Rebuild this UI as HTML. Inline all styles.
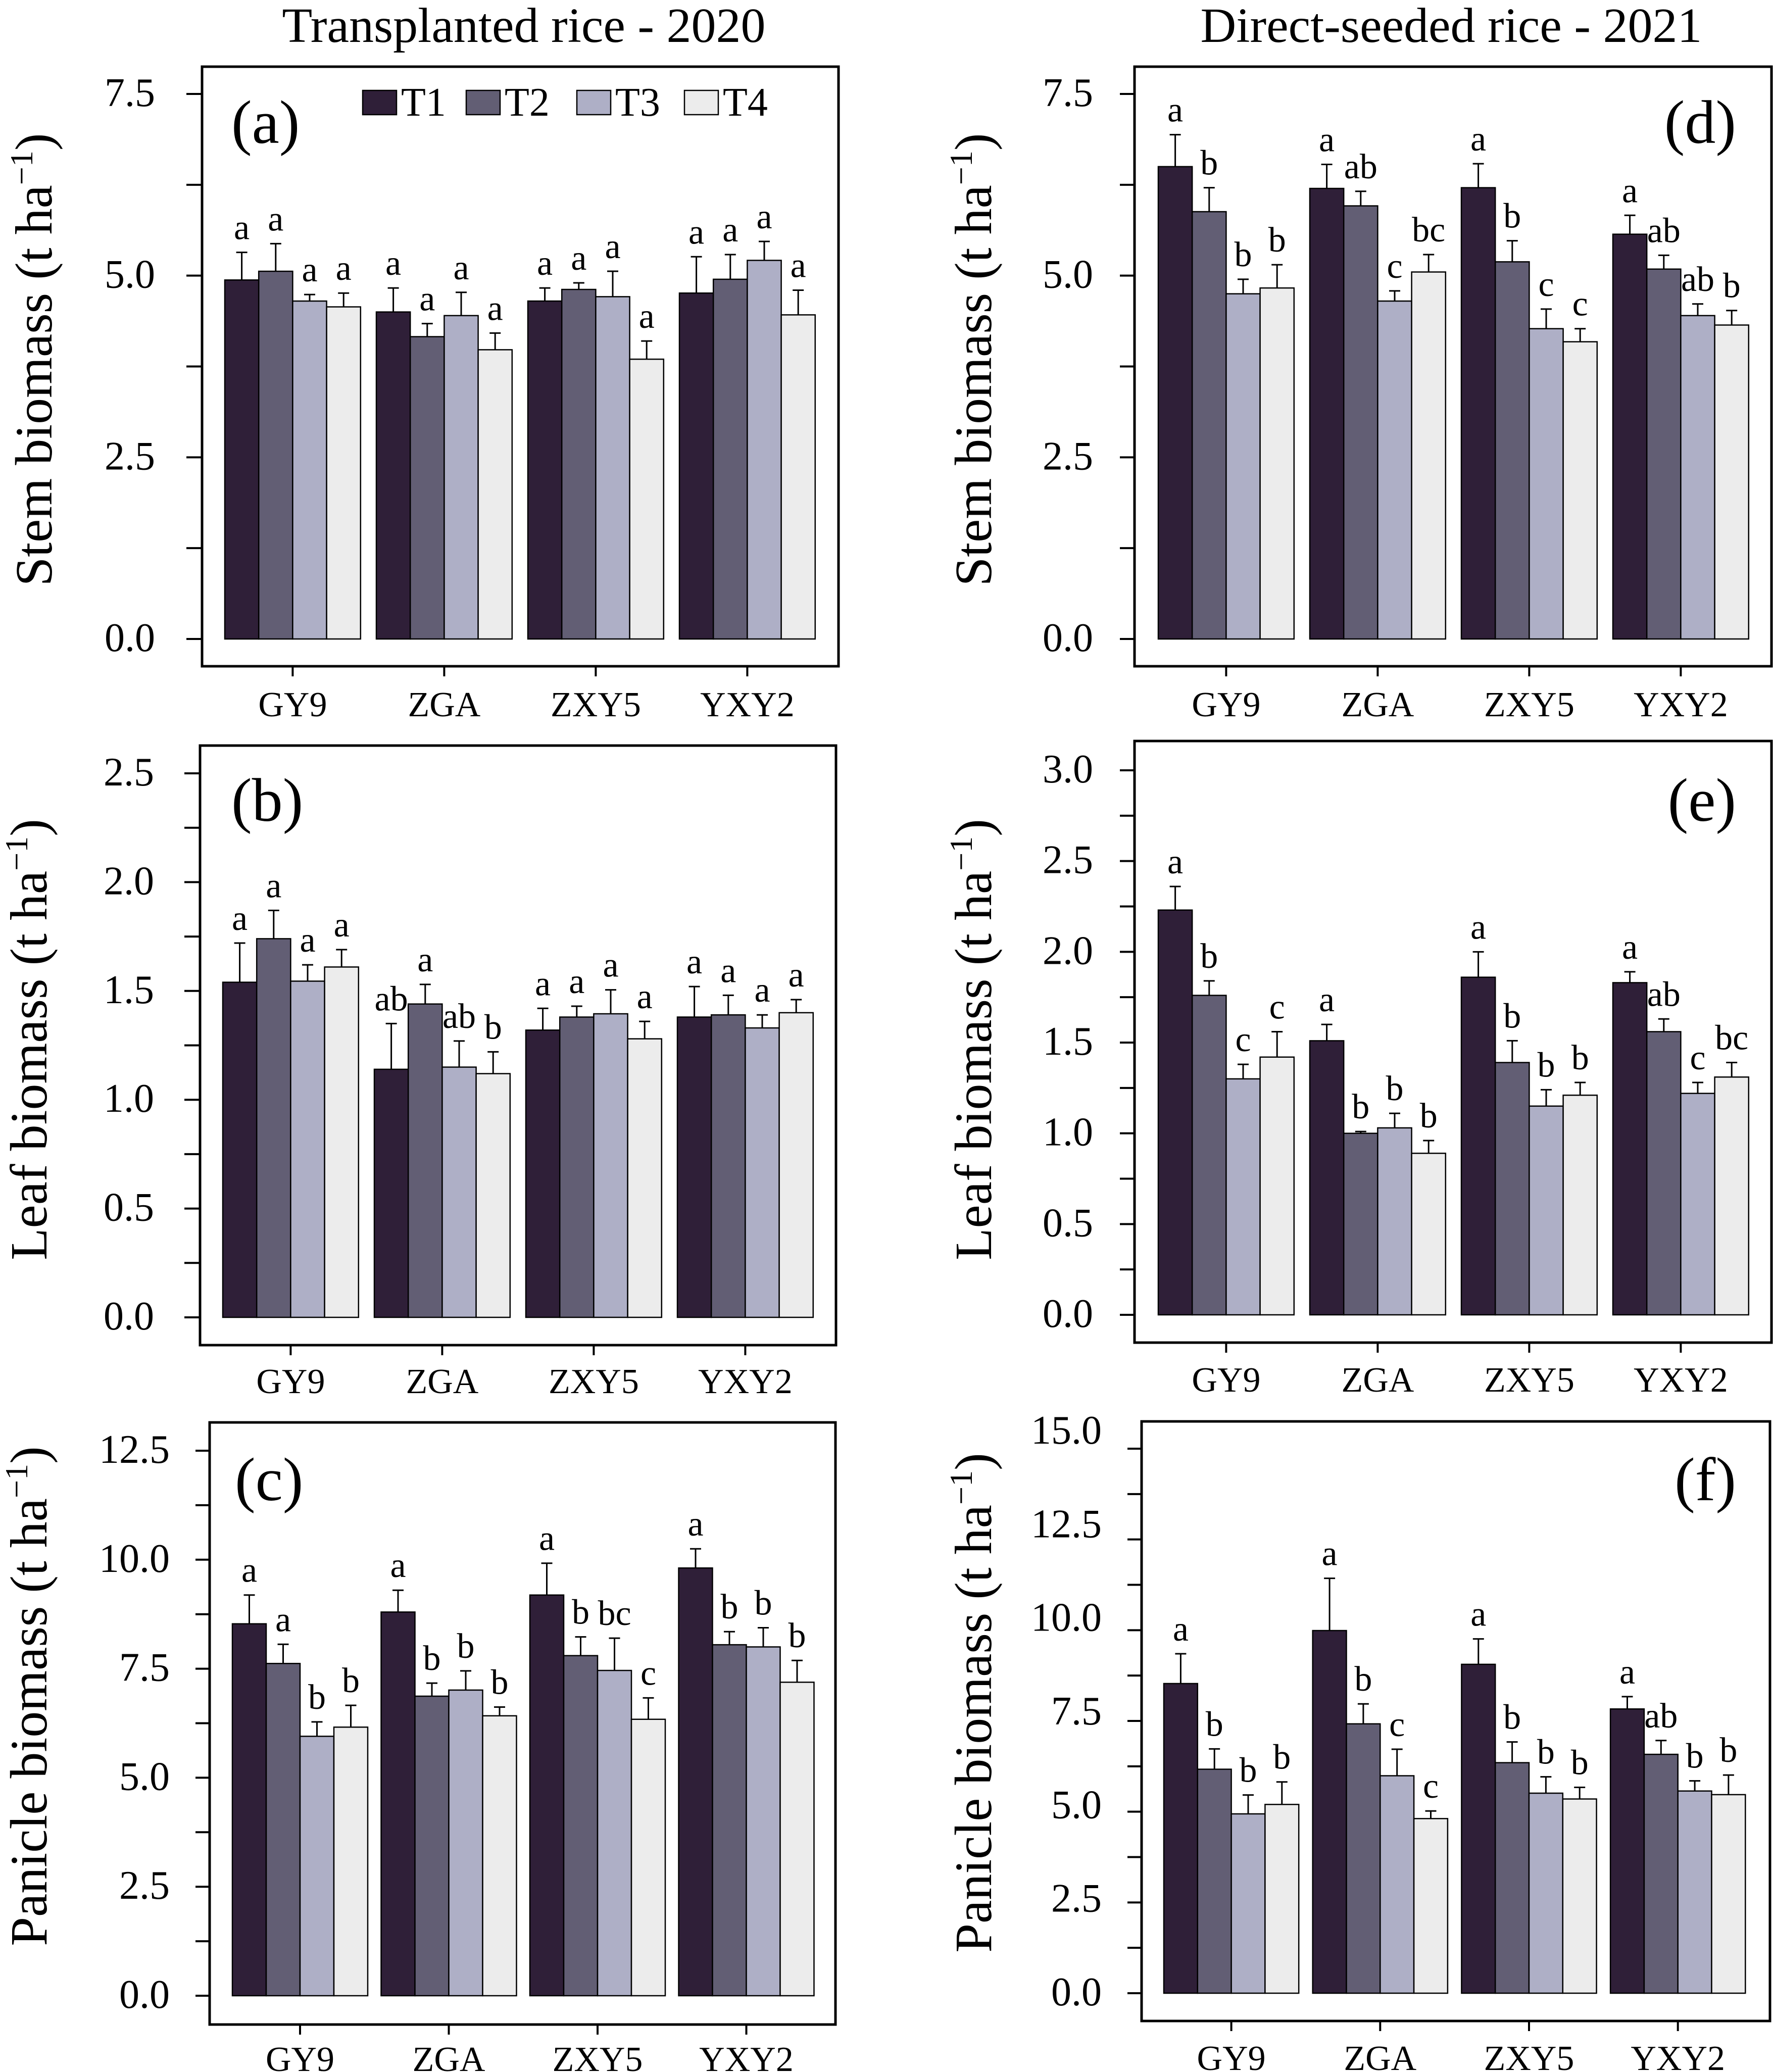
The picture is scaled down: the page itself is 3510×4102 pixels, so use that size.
<!DOCTYPE html>
<html><head><meta charset="utf-8"><style>
html,body{margin:0;padding:0;background:#fff;}
svg{display:block;}
text{font-family:"Liberation Serif","Times New Roman",serif;fill:#000;}
</style></head><body>
<svg id="fig" xmlns="http://www.w3.org/2000/svg" width="3510" height="4102" viewBox="0 0 3510 4102">
<rect x="0" y="0" width="3510" height="4102" fill="#fff"/>
<text x="1037" y="83" font-size="98" text-anchor="middle">Transplanted rice - 2020</text>
<text x="2873" y="83" font-size="98" text-anchor="middle">Direct-seeded rice - 2021</text>
</svg>
<script>
const categories = ["GY9","ZGA","ZXY5","YXY2"];
const treatments = ["T1","T2","T3","T4"];
const colors = ["#2f1f38","#625e74","#aeafc6","#ececec"];
// panel (a) stem 2020
const aMean = [[4.94,5.06,4.65,4.57],[4.50,4.16,4.45,3.98],[4.65,4.81,4.71,3.85],[4.76,4.95,5.21,4.46]];
const aErr  = [[5.32,5.44,4.74,4.76],[4.83,4.34,4.77,4.21],[4.83,4.90,5.06,4.10],[5.26,5.29,5.47,4.80]];
const aLet  = [["a","a","a","a"],["a","a","a","a"],["a","a","a","a"],["a","a","a","a"]];
// panel (b) leaf 2020
const bMean = [[1.54,1.74,1.545,1.61],[1.14,1.44,1.15,1.12],[1.32,1.38,1.395,1.28],[1.38,1.39,1.33,1.40]];
const bErr  = [[1.72,1.87,1.62,1.69],[1.35,1.53,1.27,1.22],[1.42,1.43,1.505,1.36],[1.52,1.48,1.39,1.46]];
const bLet  = [["a","a","a","a"],["ab","a","ab","b"],["a","a","a","a"],["a","a","a","a"]];
// panel (c) panicle 2020
const cMean = [[8.53,7.62,5.95,6.16],[8.80,6.87,7.01,6.42],[9.19,7.80,7.46,6.34],[9.81,8.05,8.00,7.19]];
const cErr  = [[9.19,8.06,6.28,6.66],[9.30,7.17,7.45,6.62],[9.92,8.23,8.20,6.83],[10.25,8.35,8.44,7.69]];
const cLet  = [["a","a","b","b"],["a","b","b","b"],["a","b","bc","c"],["a","b","b","b"]];
// panel (d) stem 2021
const dMean = [[6.50,5.88,4.75,4.83],[6.20,5.96,4.65,5.05],[6.21,5.19,4.27,4.09],[5.57,5.09,4.45,4.32]];
const dErr  = [[6.94,6.21,4.95,5.15],[6.53,6.16,4.79,5.29],[6.54,5.48,4.54,4.27],[5.83,5.28,4.61,4.52]];
const dLet  = [["a","b","b","b"],["a","ab","c","bc"],["a","b","c","c"],["a","ab","ab","b"]];
// panel (e) leaf 2021
const eMean = [[2.23,1.76,1.30,1.42],[1.51,1.00,1.03,0.89],[1.86,1.39,1.15,1.21],[1.83,1.56,1.22,1.31]];
const eErr  = [[2.36,1.84,1.38,1.56],[1.60,1.01,1.11,0.96],[2.00,1.51,1.24,1.28],[1.89,1.63,1.28,1.39]];
const eLet  = [["a","b","c","c"],["a","b","b","b"],["a","b","b","b"],["a","ab","c","bc"]];
// panel (f) panicle 2021
const fMean = [[8.53,6.17,4.94,5.20],[9.99,7.42,5.99,4.81],[9.06,6.35,5.51,5.35],[7.83,6.58,5.57,5.47]];
const fErr  = [[9.35,6.73,5.46,5.82],[11.43,7.97,6.72,5.02],[9.76,6.92,5.96,5.67],[8.17,6.96,5.85,6.01]];
const fLet  = [["a","b","b","b"],["a","b","c","c"],["a","b","b","b"],["a","ab","b","b"]];
const aTicks = ["0.0","2.5","5.0","7.5"];
const bTicks = ["0.0","0.5","1.0","1.5","2.0","2.5"];
const cTicks = ["0.0","2.5","5.0","7.5","10.0","12.5"];
const dTicks = ["0.0","2.5","5.0","7.5"];
const eTicks = ["0.0","0.5","1.0","1.5","2.0","2.5","3.0"];
const fTicks = ["0.0","2.5","5.0","7.5","10.0","12.5","15.0"];

const NS = "http://www.w3.org/2000/svg";
const svg = document.getElementById("fig");
function mk(tag, attrs, parent){
  const e = document.createElementNS(NS, tag);
  for (const k in attrs) e.setAttribute(k, attrs[k]);
  (parent||svg).appendChild(e);
  return e;
}
function htext(parent, x, y, fs, str, anchor){
  const t = mk("text", {x:x, y:y, "font-size":fs, "text-anchor":anchor||"middle"}, parent);
  t.textContent = str;
  return t;
}

function panel(cfg){
  const g = mk("g", {});
  
  
  const ymax = parseFloat(cfg.ticks[cfg.ticks.length-1]);
  const yS = v => cfg.y0 - (v/ymax)*(cfg.y0 - cfg.yTop);
  const xS = (gi, ti) => cfg.gLeft + gi*cfg.pitch + ti*cfg.barW;
  const box = mk("rect", {x:cfg.box[0], y:cfg.box[1], width:cfg.box[2]-cfg.box[0], height:cfg.box[3]-cfg.box[1], fill:"none", stroke:"#000", "stroke-width":5}, g);
  
  
  const major = parseFloat(cfg.ticks[1]);
  for (let v = 0; v <= ymax + 1e-9; v += major/2){
    const y = yS(v);
    const tk = mk("line", {x1:cfg.tickX, x2:cfg.box[0], y1:y, y2:y, stroke:"#000", "stroke-width":4}, g);
    
    
  }
  const drift = cfg.drift || 0;
  cfg.ticks.forEach((lab) => {
    const v = parseFloat(lab);
    const t = htext(g, cfg.labR, yS(v) + 24 - drift*(v/ymax), 80, lab, "end");
    
    
  });
  categories.forEach((cat, gi) => {
    treatments.forEach((tr, ti) => {
      const x = xS(gi, ti), w = cfg.barW;
      const v = cfg.mean[gi][ti], ev = cfg.err[gi][ti];
      const cx = x + w/2;
      const el = mk("line", {x1:cx, x2:cx, y1:yS(v), y2:yS(ev), stroke:"#000", "stroke-width":3}, g);
      
      
      const cap = mk("line", {x1:cx-11, x2:cx+11, y1:yS(ev), y2:yS(ev), stroke:"#000", "stroke-width":3}, g);
      
      
      const r = mk("rect", {x:x, y:yS(v), width:w, height:cfg.y0 - yS(v), fill:colors[ti], stroke:"#000", "stroke-width":2.5}, g);
      
      
      const lt = mk("text", {x:cx, y:yS(ev) - 26, "font-size":70, "text-anchor":"middle"}, g);
      lt.textContent = cfg.letters[gi][ti];
      
      
    });
    const cxg = cfg.gLeft + gi*cfg.pitch + 2*cfg.barW;
    const xt = mk("line", {x1:cxg, x2:cxg, y1:cfg.box[3], y2:cfg.box[3]+20, stroke:"#000", "stroke-width":4}, g);
    
    
    const xl = htext(g, cxg, cfg.xLabY, 70, cat, "middle");
    
    
  });
  const pl = mk("text", {x:cfg.plX, y:cfg.plY, "font-size":122, "text-anchor":cfg.plAnchor}, g);
  pl.textContent = "(" + cfg.id + ")";
  
  
  const yt = mk("text", {"font-size":104, "text-anchor":"middle", transform:"translate("+cfg.ytX+","+cfg.ytY+") rotate(-90)"}, g);
  
  
  const s1 = mk("tspan", {}, yt); s1.textContent = cfg.ytitle + " (t ha";
  const s2 = mk("tspan", {"font-size":64, dy:-38}, yt); s2.textContent = "\u22121";
  const s3 = mk("tspan", {dy:38}, yt); s3.textContent = ")";
  return g;
}

panel({id:"a", box:[400,132,1660,1319], y0:1265, yTop:186, ticks:aTicks, gLeft:445, pitch:300, barW:67.2, tickX:369, labR:307, xLabY:1418,
  mean:aMean, err:aErr, letters:aLet, plX:458, plY:283, plAnchor:"start", ytX:102, ytY:712, ytitle:"Stem biomass"});
panel({id:"b", box:[396,1476,1655,2663], y0:2608, yTop:1531, ticks:bTicks, gLeft:441, pitch:300, barW:67.2, tickX:365, labR:305, xLabY:2758,
  mean:bMean, err:bErr, letters:bLet, plX:458, plY:1625, plAnchor:"start", ytX:92, ytY:2058, ytitle:"Leaf biomass"});
panel({id:"c", box:[415,2816,1654,4008], y0:3951, yTop:2872, ticks:cTicks, gLeft:460, pitch:294.5, barW:67, tickX:387, labR:336, xLabY:4100,
  mean:cMean, err:cErr, letters:cLet, plX:465, plY:2970, plAnchor:"start", ytX:92, ytY:3358, ytitle:"Panicle biomass"});
panel({id:"d", box:[2246,132,3507,1319], y0:1265, yTop:186, ticks:dTicks, gLeft:2293, pitch:300, barW:67.2, tickX:2217, labR:2164, xLabY:1418,
  mean:dMean, err:dErr, letters:dLet, plX:3437, plY:283, plAnchor:"end", ytX:1962, ytY:712, ytitle:"Stem biomass"});
panel({id:"e", box:[2246,1467,3507,2658], y0:2603, yTop:1525, ticks:eTicks, gLeft:2293, pitch:300, barW:67.2, tickX:2217, labR:2164, xLabY:2755,
  mean:eMean, err:eErr, letters:eLet, plX:3437, plY:1625, plAnchor:"end", ytX:1962, ytY:2058, ytitle:"Leaf biomass"});
panel({id:"f", box:[2260,2814,3504,4001], y0:3946, yTop:2868, ticks:fTicks, gLeft:2304, pitch:294.7, barW:66.8, tickX:2232, labR:2181, xLabY:4098,
  mean:fMean, err:fErr, letters:fLet, plX:3437, plY:2970, plAnchor:"end", ytX:1962, ytY:3371, ytitle:"Panicle biomass", drift:34});

const leg = mk("g", {});


const legX = [718, 923, 1142, 1355];
treatments.forEach((tr, i) => {
  const sq = mk("rect", {x:legX[i], y:179, width:67, height:48, fill:colors[i], stroke:"#000", "stroke-width":2.5}, leg);
  
  
  const t = htext(leg, legX[i] + 76, 229, 80, tr, "start");
  
  
});
</script>
</body></html>
